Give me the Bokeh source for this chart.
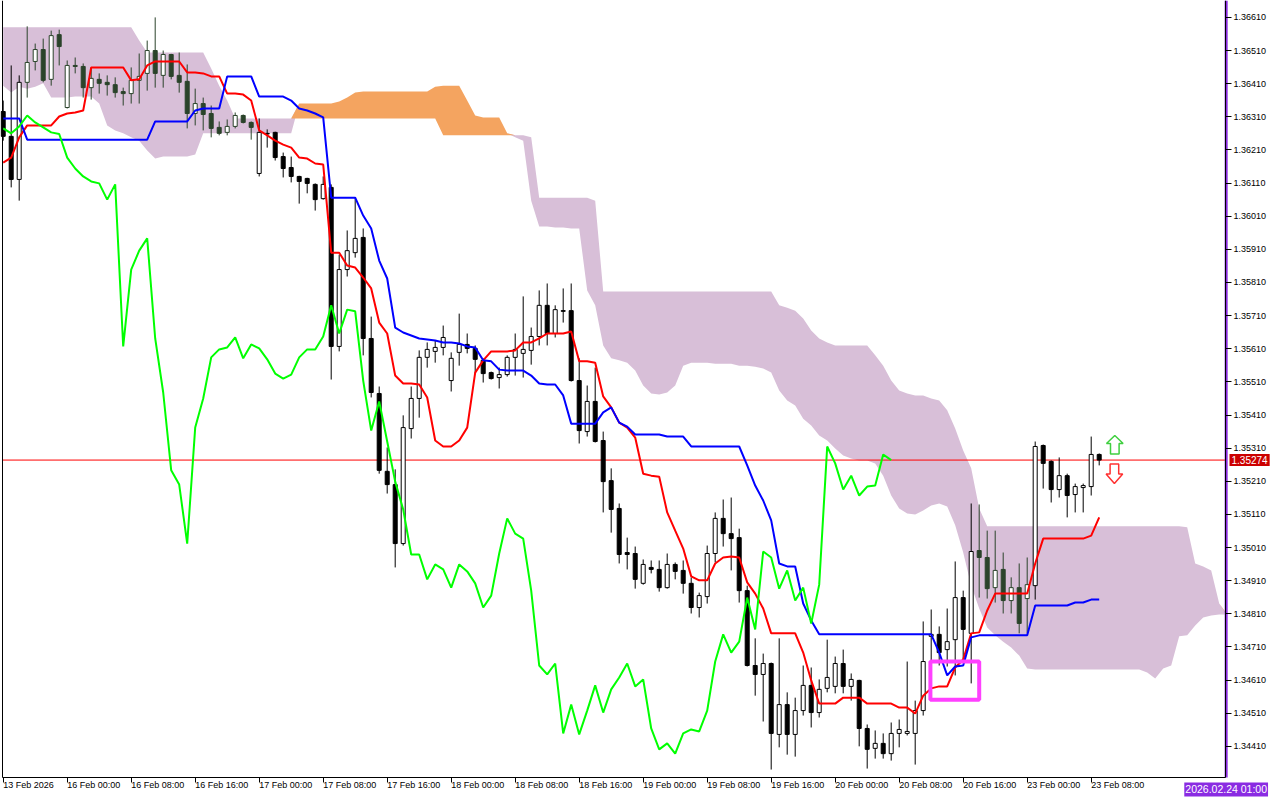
import numpy as np
from bokeh.plotting import figure
from bokeh.models import (Range1d, FixedTicker, PrintfTickFormatter, Label, ColumnDataSource)
from bokeh.embed import file_html
from bokeh.resources import INLINE

# ---------------- data (H1 candles, 13 Feb 2026 16:00 -> 23 Feb 2026 09:00) -------------
open_ = [1.36326, 1.36251, 1.36121, 1.36414, 1.36477, 1.36513, 1.36423, 1.36558, 1.36338, 1.36465,
         1.36462, 1.36398, 1.36423, 1.36414, 1.36407, 1.36386, 1.36380, 1.36420, 1.36441, 1.36510,
         1.36435, 1.36498, 1.36435, 1.36417, 1.36320, 1.36350, 1.36320, 1.36278, 1.36263, 1.36281,
         1.36314, 1.36293, 1.36139, 1.36260, 1.36263, 1.36190, 1.36157, 1.36130, 1.36124, 1.36106,
         1.36063, 1.36097, 1.35617, 1.35849, 1.35900, 1.35946, 1.35641, 1.35475, 1.35240, 1.35200,
         1.35022, 1.35369, 1.35460, 1.35584, 1.35602, 1.35614, 1.35514, 1.35599, 1.35623, 1.35611,
         1.35575, 1.35538, 1.35523, 1.35532, 1.35584, 1.35596, 1.35605, 1.35647, 1.35741, 1.35656,
         1.35725, 1.35725, 1.35514, 1.35360, 1.35451, 1.35333, 1.35212, 1.35128, 1.34995, 1.34992,
         1.34902, 1.34950, 1.34944, 1.34889, 1.34959, 1.34941, 1.34902, 1.34829, 1.34862, 1.34992,
         1.35098, 1.35052, 1.35040, 1.34880, 1.34654, 1.34627, 1.34660, 1.34446, 1.34536, 1.34446,
         1.34518, 1.34594, 1.34512, 1.34585, 1.34591, 1.34660, 1.34591, 1.34609, 1.34464, 1.34404,
         1.34419, 1.34388, 1.34449, 1.34449, 1.34449, 1.34518, 1.34742, 1.34748, 1.34702, 1.34732,
         1.34859, 1.34751, 1.35001, 1.34980, 1.34889, 1.34944, 1.34850, 1.34889, 1.34856, 1.34895,
         1.35318, 1.35270, 1.35185, 1.35227, 1.35170, 1.35191, 1.35194, 1.35291]
high = [1.36359, 1.36465, 1.36435, 1.36583, 1.36531, 1.36546, 1.36570, 1.36573, 1.36480, 1.36489,
        1.36471, 1.36459, 1.36441, 1.36435, 1.36429, 1.36398, 1.36459, 1.36501, 1.36540, 1.36610,
        1.36510, 1.36500, 1.36504, 1.36468, 1.36395, 1.36368, 1.36344, 1.36296, 1.36302, 1.36323,
        1.36317, 1.36296, 1.36305, 1.36272, 1.36265, 1.36202, 1.36190, 1.36132, 1.36126, 1.36109,
        1.36130, 1.36106, 1.35894, 1.35967, 1.36066, 1.35973, 1.35707, 1.35496, 1.35312, 1.35246,
        1.35409, 1.35496, 1.35605, 1.35629, 1.35635, 1.35680, 1.35599, 1.35716, 1.35656, 1.35620,
        1.35581, 1.35541, 1.35553, 1.35590, 1.35656, 1.35768, 1.35674, 1.35786, 1.35807, 1.35741,
        1.35792, 1.35807, 1.35581, 1.35499, 1.35553, 1.35360, 1.35249, 1.35143, 1.35040, 1.35013,
        1.34974, 1.34971, 1.34971, 1.34992, 1.34965, 1.34971, 1.34920, 1.34874, 1.35016, 1.35116,
        1.35155, 1.35161, 1.35067, 1.34895, 1.34736, 1.34690, 1.34663, 1.34736, 1.34573, 1.34557,
        1.34654, 1.34648, 1.34612, 1.34732, 1.34681, 1.34702, 1.34630, 1.34611, 1.34476, 1.34458,
        1.34449, 1.34482, 1.34491, 1.34666, 1.34548, 1.34787, 1.34823, 1.34772, 1.34826, 1.34968,
        1.34880, 1.35143, 1.35140, 1.35061, 1.35061, 1.34995, 1.34920, 1.34962, 1.34980, 1.35330,
        1.35321, 1.35273, 1.35282, 1.35233, 1.35203, 1.35203, 1.35345, 1.35294]
low = [1.36238, 1.36097, 1.36057, 1.36368, 1.36450, 1.36414, 1.36404, 1.36465, 1.36335, 1.36441,
       1.36368, 1.36362, 1.36380, 1.36374, 1.36368, 1.36344, 1.36350, 1.36350, 1.36389, 1.36398,
       1.36398, 1.36423, 1.36383, 1.36275, 1.36284, 1.36269, 1.36248, 1.36254, 1.36254, 1.36275,
       1.36290, 1.36241, 1.36130, 1.36217, 1.36178, 1.36127, 1.36112, 1.36048, 1.36079, 1.36027,
       1.36060, 1.35517, 1.35602, 1.35828, 1.35885, 1.35590, 1.35463, 1.35233, 1.35173, 1.34950,
       1.35016, 1.35339, 1.35402, 1.35553, 1.35568, 1.35590, 1.35481, 1.35559, 1.35596, 1.35535,
       1.35508, 1.35517, 1.35490, 1.35526, 1.35529, 1.35523, 1.35562, 1.35620, 1.35620, 1.35644,
       1.35689, 1.35511, 1.35324, 1.35345, 1.35327, 1.35116, 1.35055, 1.34962, 1.34944, 1.34886,
       1.34898, 1.34932, 1.34877, 1.34886, 1.34914, 1.34871, 1.34811, 1.34799, 1.34841, 1.34965,
       1.35013, 1.34941, 1.34844, 1.34651, 1.34563, 1.34485, 1.34340, 1.34407, 1.34385, 1.34379,
       1.34503, 1.34467, 1.34497, 1.34573, 1.34570, 1.34570, 1.34548, 1.34410, 1.34343, 1.34373,
       1.34373, 1.34367, 1.34407, 1.34443, 1.34355, 1.34503, 1.34570, 1.34654, 1.34651, 1.34624,
       1.34672, 1.34600, 1.34859, 1.34856, 1.34844, 1.34811, 1.34811, 1.34751, 1.34751, 1.34853,
       1.35188, 1.35146, 1.35161, 1.35101, 1.35116, 1.35116, 1.35167, 1.35258]
close = [1.36251, 1.36121, 1.36414, 1.36474, 1.36513, 1.36420, 1.36555, 1.36522, 1.36465, 1.36462,
         1.36398, 1.36426, 1.36411, 1.36407, 1.36383, 1.36380, 1.36420, 1.36432, 1.36510, 1.36441,
         1.36498, 1.36432, 1.36414, 1.36320, 1.36350, 1.36317, 1.36275, 1.36260, 1.36281, 1.36314,
         1.36293, 1.36278, 1.36263, 1.36258, 1.36187, 1.36154, 1.36130, 1.36115, 1.36109, 1.36060,
         1.36106, 1.35617, 1.35849, 1.35906, 1.35943, 1.35641, 1.35478, 1.35243, 1.35200, 1.35022,
         1.35372, 1.35460, 1.35584, 1.35608, 1.35614, 1.35644, 1.35581, 1.35623, 1.35611, 1.35578,
         1.35535, 1.35520, 1.35532, 1.35584, 1.35608, 1.35608, 1.35647, 1.35741, 1.35656, 1.35728,
         1.35723, 1.35514, 1.35363, 1.35451, 1.35330, 1.35209, 1.35125, 1.34989, 1.34989, 1.34914,
         1.34959, 1.34944, 1.34889, 1.34959, 1.34938, 1.34902, 1.34829, 1.34865, 1.34992, 1.35098,
         1.35052, 1.35037, 1.34880, 1.34654, 1.34627, 1.34660, 1.34449, 1.34536, 1.34446, 1.34518,
         1.34594, 1.34512, 1.34582, 1.34618, 1.34660, 1.34591, 1.34612, 1.34464, 1.34401, 1.34419,
         1.34388, 1.34449, 1.34461, 1.34455, 1.34518, 1.34666, 1.34748, 1.34693, 1.34726, 1.34859,
         1.34763, 1.34998, 1.34980, 1.34886, 1.34941, 1.34850, 1.34889, 1.34781, 1.34898, 1.35315,
         1.35264, 1.35185, 1.35227, 1.35167, 1.35194, 1.35197, 1.35291, 1.35274]

# Ichimoku lines
tenkan = [1.36172, 1.36187, 1.36248, 1.36284, 1.36284, 1.36284, 1.36284, 1.36311, 1.36320, 1.36323,
          1.36329, 1.36459, 1.36459, 1.36459, 1.36459, 1.36459, 1.36420, 1.36423, 1.36465, 1.36477,
          1.36477, 1.36477, 1.36477, 1.36444, 1.36444, 1.36441, 1.36432, 1.36432, 1.36380, 1.36380,
          1.36377, 1.36359, 1.36269, 1.36254, 1.36238, 1.36226, 1.36217, 1.36187, 1.36184, 1.36169,
          1.36166, 1.35900, 1.35900, 1.35861, 1.35855, 1.35825, 1.35792, 1.35689, 1.35656, 1.35529,
          1.35505, 1.35505, 1.35502, 1.35463, 1.35333, 1.35315, 1.35315, 1.35333, 1.35372, 1.35538,
          1.35575, 1.35602, 1.35602, 1.35602, 1.35605, 1.35629, 1.35629, 1.35641, 1.35656, 1.35656,
          1.35656, 1.35662, 1.35572, 1.35572, 1.35568, 1.35466, 1.35433, 1.35387, 1.35372, 1.35342,
          1.35233, 1.35227, 1.35224, 1.35116, 1.35061, 1.35007, 1.34923, 1.34911, 1.34911, 1.34962,
          1.34980, 1.34983, 1.34980, 1.34905, 1.34871, 1.34826, 1.34751, 1.34751, 1.34751, 1.34751,
          1.34693, 1.34609, 1.34539, 1.34539, 1.34539, 1.34557, 1.34557, 1.34557, 1.34539, 1.34539,
          1.34539, 1.34539, 1.34527, 1.34527, 1.34509, 1.34563, 1.34585, 1.34591, 1.34591, 1.34648,
          1.34672, 1.34751, 1.34754, 1.34820, 1.34871, 1.34871, 1.34871, 1.34871, 1.34871, 1.34962,
          1.35037, 1.35037, 1.35037, 1.35037, 1.35037, 1.35037, 1.35046, 1.35101]
kijun = ([1.36305] * 3 + [1.36241] * 16 + [1.36296] * 5 + [1.36329] + [1.36335] * 3 +
         [1.36432] * 4 + [1.36371] * 4 + [1.36359, 1.36335, 1.36329, 1.36320, 1.36308] +
         [1.36066] * 4 + [1.36012, 1.35973, 1.35876, 1.35822, 1.35674, 1.35659, 1.35650, 1.35641,
                          1.35638, 1.35635, 1.35629, 1.35629, 1.35626, 1.35617, 1.35614, 1.35575,
                          1.35572, 1.35547] +
         [1.35544] * 3 + [1.35529, 1.35505, 1.35502, 1.35502, 1.35469] + [1.35384] * 4 +
         [1.35418, 1.35433, 1.35387, 1.35375] + [1.35351] * 4 + [1.35345] * 3 + [1.35315] * 7 +
         [1.35258, 1.35197, 1.35152, 1.35092, 1.34962, 1.34953, 1.34953, 1.34841, 1.34790] +
         [1.34748] * 15 + [1.34693, 1.34624, 1.34651, 1.34654, 1.34739] + [1.34745] * 7 +
         [1.34835] * 5 + [1.34844] * 2 + [1.34853] * 2)

# Senkou spans (already shifted 26 bars forward), index 0..153
span_a = ([1.36404, 1.36383, 1.36401, 1.36395, 1.36401, 1.36411] + [1.36368] * 3 + [1.36371] * 3 +
          [1.36350, 1.36284, 1.36269, 1.36260, 1.36248, 1.36238, 1.36208, 1.36184] +
          [1.36190] * 4 + [1.36196] + [1.36260] * 12 + [1.36350] * 5 +
          [1.36356, 1.36368, 1.36383] + [1.36386] * 9 + [1.36401] + [1.36404] * 3 +
          [1.36359, 1.36314] + [1.36308] * 3 + [1.36260, 1.36248, 1.36238, 1.36057] +
          [1.35979] * 2 + [1.35976] * 2 + [1.35973] * 2 +
          [1.35786, 1.35741, 1.35620, 1.35581, 1.35575, 1.35568, 1.35544, 1.35499, 1.35475,
           1.35472, 1.35478, 1.35499, 1.35559] +
          [1.35568] * 3 + [1.35565] * 3 + [1.35559] * 2 +
          [1.35556, 1.35550, 1.35538, 1.35484, 1.35454, 1.35439, 1.35399, 1.35378, 1.35348,
           1.35333, 1.35309, 1.35288, 1.35279] + [1.35273] * 2 +
          [1.35264, 1.35227, 1.35167, 1.35128, 1.35113, 1.35110, 1.35122, 1.35137, 1.35143,
           1.35134, 1.35077, 1.34995, 1.34895, 1.34826, 1.34769, 1.34745, 1.34726, 1.34708,
           1.34684, 1.34645] + [1.34642] * 14 +
          [1.34633, 1.34615, 1.34645, 1.34654, 1.34742, 1.34745, 1.34775, 1.34799, 1.34805,
           1.34808, 1.34808])
span_b = ([1.36580] * 17 + [1.36540] + [1.36504] * 8 + [1.36456, 1.36404, 1.36359] +
          [1.36305] * 26 + [1.36254] * 11 + [1.36248] + [1.36066] * 7 + [1.36057] +
          [1.35783] * 22 + [1.35741, 1.35734, 1.35725, 1.35701, 1.35665, 1.35641, 1.35629] +
          [1.35620] * 5 + [1.35590, 1.35559, 1.35514, 1.35484, 1.35475] + [1.35469] * 2 +
          [1.35460, 1.35454, 1.35424, 1.35369, 1.35303, 1.35249, 1.35128] + [1.35074] * 25 +
          [1.35071, 1.34962, 1.34953, 1.34941, 1.34841, 1.34805])

date_ticks = [0, 8, 16, 24, 32, 40, 48, 56, 64, 72, 80, 88, 96, 104, 112, 120, 128, 136]
date_labels = ["13 Feb 2026", "16 Feb 00:00", "16 Feb 08:00", "16 Feb 16:00", "17 Feb 00:00",
               "17 Feb 08:00", "17 Feb 16:00", "18 Feb 00:00", "18 Feb 08:00", "18 Feb 16:00",
               "19 Feb 00:00", "19 Feb 08:00", "19 Feb 16:00", "20 Feb 00:00", "20 Feb 08:00",
               "20 Feb 16:00", "23 Feb 00:00", "23 Feb 08:00"]
price_ticks = [1.34410, 1.34510, 1.34610, 1.34710, 1.34810, 1.34910, 1.35010, 1.35110, 1.35210,
               1.35310, 1.35410, 1.35510, 1.35610, 1.35710, 1.35810, 1.35910, 1.36010, 1.36110,
               1.36210, 1.36310, 1.36410, 1.36510, 1.36610]
current_price = 1.35274
cursor_label = "2026.02.24 01:00"
cursor_bar = 152.87          # bar position of the vertical cursor line (24 Feb 01:00)
chikou_shift = 26

assert len(open_) == len(high) == len(low) == len(close) == len(tenkan) == len(kijun) == 138
assert len(span_a) == len(span_b) == 154

# ---------------- chart geometry (bar units / price units) ----------------
X_LEFT, X_RIGHT = -0.0875, 152.79        # chart area edges (bars)
P_TOP, P_BOTTOM = 1.36661, 1.34316        # chart area edges (price)
X_CANVAS = (-0.3375, 159.6625)            # whole canvas in bar units
P_CANVAS_BOTTOM = 1.342466                # canvas bottom in price units

FONT = "Liberation Sans"
p = figure(width=1280, height=800, output_backend="svg", toolbar_location=None,
           x_range=Range1d(*X_CANVAS), y_range=Range1d(P_CANVAS_BOTTOM, P_TOP),
           y_axis_location="right", min_border_left=0, min_border_right=0,
           min_border_top=0, min_border_bottom=0)
p.grid.visible = False
p.outline_line_color = None
p.background_fill_color = "white"
p.border_fill_color = "white"

ya = p.yaxis[0]
ya.fixed_location = X_RIGHT
ya.bounds = (P_BOTTOM, P_TOP)
ya.ticker = FixedTicker(ticks=price_ticks)
ya.formatter = PrintfTickFormatter(format="%.5f")
ya.major_tick_out = 6
ya.major_tick_in = 0
ya.minor_tick_out = 0
ya.minor_tick_in = 0
ya.major_label_standoff = 2
ya.axis_line_color = "black"
ya.major_label_text_font = FONT
ya.major_label_text_font_size = "9px"
ya.major_label_text_color = "black"

xa = p.xaxis[0]
xa.fixed_location = P_BOTTOM
xa.bounds = (X_LEFT, X_RIGHT)
xa.ticker = FixedTicker(ticks=date_ticks)
xa.major_label_overrides = {t: s for t, s in zip(date_ticks, date_labels)}
xa.major_label_orientation = -0.0001
xa.major_tick_out = 5
xa.major_tick_in = 0
xa.minor_tick_out = 0
xa.minor_tick_in = 0
xa.major_label_standoff = 2
xa.axis_line_color = "black"
xa.major_label_text_font = FONT
xa.major_label_text_font_size = "9px"
xa.major_label_text_color = "black"

# ---------------- cloud ----------------
a = np.array(span_a)
b = np.array(span_b)
cx = np.arange(len(a))
top = np.maximum(a, b)
p.varea(x=cx, y1=a, y2=top, fill_color="#D8BFD8")   # Senkou B above A (thistle)
p.varea(x=cx, y1=b, y2=top, fill_color="#F4A460")   # Senkou A above B (sandy brown)

# current price line across the chart area
p.segment(x0=[X_LEFT], y0=[current_price], x1=[X_RIGHT], y1=[current_price],
          line_color="#FF0000", line_width=1)

# ---------------- candles ----------------
o = np.array(open_); c = np.array(close); h = np.array(high); l = np.array(low)
x = np.arange(len(o))
n = len(o)
mid = (o + c) / 2
in_cloud = (mid >= a[:n]) & (mid <= b[:n]) & (b[:n] > a[:n])
dark = "#2A432A"
line_col = [dark if ic else "black" for ic in in_cloud]
fill_col = ["white" if cc >= oo else lc for cc, oo, lc in zip(c, o, line_col)]
src = ColumnDataSource(dict(x=x, top=np.maximum(o, c), bottom=np.minimum(o, c), high=h, low=l,
                            line=line_col, fill=fill_col))
p.segment(x0="x", y0="high", x1="x", y1="low", line_color="line", line_width=1, source=src)
p.vbar(x="x", width=0.5, top="top", bottom="bottom", fill_color="fill", line_color="line",
       line_width=1, source=src)

# ---------------- Ichimoku lines ----------------
p.line(x, tenkan, line_color="#FF0000", line_width=2)
p.line(x, kijun, line_color="#0000FF", line_width=2)
p.line(x[:n - chikou_shift], c[chikou_shift:], line_color="#00FF00", line_width=2)

# marker rectangle
p.quad(left=[115.9], right=[122.0], top=[1.34666], bottom=[1.34551], fill_alpha=0,
       line_color="#FF40FF", line_width=4)

# up / down arrow objects (shape in screen pixels around the tip)
px_x, px_y = 1 / 8.0, 0.00003018
up = [(0, 0), (8.3, 8), (4.3, 8), (4.3, 18.5), (-4.3, 18.5), (-4.3, 8), (-8.3, 8)]
dn = [(0, 0), (8.3, -9.5), (4.3, -9.5), (4.3, -19.5), (-4.3, -19.5), (-4.3, -9.5), (-8.3, -9.5)]
ux, uy = 138.95, 1.35348
dx, dy = 138.90, 1.35203
p.patch([ux + q[0] * px_x for q in up], [uy - q[1] * px_y for q in up],
        fill_color="white", line_color="#3FCF3F", line_width=1.5)
p.patch([dx + q[0] * px_x for q in dn], [dy - q[1] * px_y for q in dn],
        fill_color="white", line_color="#FF3030", line_width=1.5)

# left border of the chart area
p.segment(x0=[X_LEFT], y0=[P_TOP], x1=[X_LEFT], y1=[P_BOTTOM], line_color="black", line_width=1)

# right-edge cursor line
p.segment(x0=[cursor_bar], y0=[P_TOP], x1=[cursor_bar], y1=[P_BOTTOM],
          line_color="#8A2BE2", line_width=3)

# price tag and cursor time tag
p.add_layout(Label(x=153.29, y=current_price, text="1.35274", text_align="left",
                   text_baseline="middle", text_color="white", text_font=FONT,
                   text_font_size="10px", background_fill_color="#CC0000", padding=2))
p.add_layout(Label(x=cursor_bar, y=1.342798, text=cursor_label, text_align="center",
                   text_baseline="middle", text_color="white", text_font=FONT,
                   text_font_size="10.5px", background_fill_color="#8A2BE2", padding=1))

open("out.html", "w").write(file_html(p, INLINE))
